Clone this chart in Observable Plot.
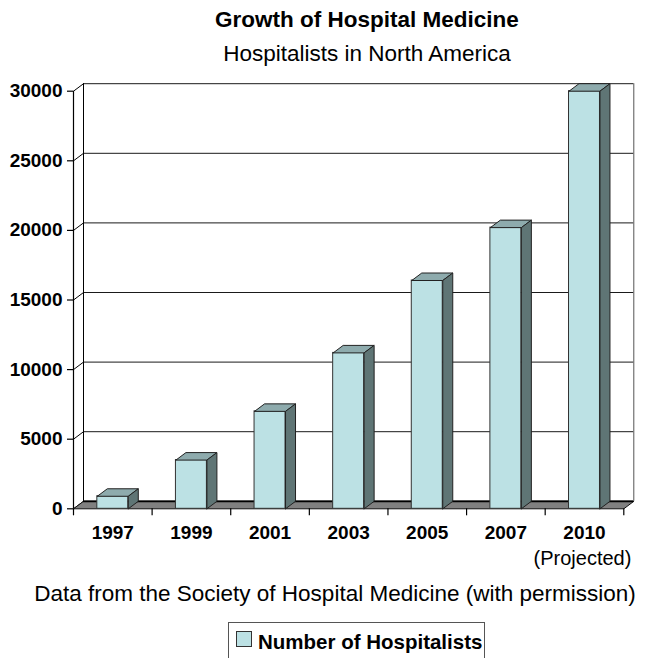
<!DOCTYPE html>
<html>
<head>
<meta charset="utf-8">
<script src="https://cdn.jsdelivr.net/npm/d3@7"></script>
<script src="https://cdn.jsdelivr.net/npm/@observablehq/plot@0.6"></script>
<style>
  html, body { margin: 0; padding: 0; background: white; overflow: hidden; }
  #wrap { position: relative; width: 651px; height: 658px; font-family: "Liberation Sans", Arial, sans-serif; color: #000; }
  .t { position: absolute; white-space: nowrap; line-height: 1; text-align: center; }
  #title { top: 9px; left: 83px; width: 568px; font-size: 22.5px; font-weight: bold; }
  #subtitle { top: 43px; left: 83px; width: 568px; font-size: 22.5px; }
  #chart { position: absolute; top: 70px; left: 0; }
  #caption { top: 583px; left: 0; width: 670px; font-size: 22.5px; }
  #legend { position: absolute; top: 622px; left: 228px; width: 257px; height: 60px; border: 1.5px solid #555; box-sizing: border-box; }
  #legend .sw { position: absolute; left: 7px; top: 8px; width: 14px; height: 14px; background: #bce1e4; border: 1px solid #333; }
  #legend .lab { position: absolute; left: 29px; top: 9px; font-size: 20.5px; font-weight: bold; line-height: 1; white-space: nowrap; }
</style>
</head>
<body>
<div id="wrap">
  <div id="title" class="t"></div>
  <div id="subtitle" class="t"></div>
  <div id="chart"></div>
  <div id="caption" class="t"></div>
  <div id="legend"><div class="sw"></div><div class="lab"></div></div>
</div>
<script>
// ---- data ----
const years = ["1997", "1999", "2001", "2003", "2005", "2007", "2010"];
const hospitalists = [900, 3500, 7000, 11200, 16400, 20200, 30000];
const yTicks = [0, 5000, 10000, 15000, 20000, 25000, 30000];
const projectedNote = "(Projected)";
const seriesName = "Number of Hospitalists";
const titleText = "Growth of Hospital Medicine";
const subtitleText = "Hospitalists in North America";
const captionText = "Data from the Society of Hospital Medicine (with permission)";

document.getElementById("title").textContent = titleText;
document.getElementById("subtitle").textContent = subtitleText;
document.getElementById("caption").textContent = captionText;
document.querySelector("#legend .lab").textContent = seriesName;

// ---- geometry (3-D depth expressed in scale units) ----
const W = 651, H = 500;
const mL = 73, mR = 27.7, mT = 20.7, mB = 61.7;
const n = years.length;
const yMax = 30000;
const bandPx = (W - mL - mR) / n;
const pxPerUnit = (H - mT - mB) / yMax;
const DX = 10 / bandPx;          // depth along x
const DY = 7.5 / pxPerUnit;      // depth along y
const HW = 0.197;                // half bar width (band units)

const bars = years.map((yr, i) => ({yr, v: hospitalists[i], x1: i + 0.5 - HW, x2: i + 0.5 + HW}));

const topPts = bars.flatMap((b, i) => [
  {id: i, x: b.x1, y: b.v}, {id: i, x: b.x2, y: b.v},
  {id: i, x: b.x2 + DX, y: b.v + DY}, {id: i, x: b.x1 + DX, y: b.v + DY}, {id: i, x: b.x1, y: b.v}
]);
const sidePts = bars.flatMap((b, i) => [
  {id: i, x: b.x2, y: 0}, {id: i, x: b.x2 + DX, y: DY},
  {id: i, x: b.x2 + DX, y: b.v + DY}, {id: i, x: b.x2, y: b.v}, {id: i, x: b.x2, y: 0}
]);
const wallPts = [
  {x: DX, y: DY}, {x: n + DX, y: DY}, {x: n + DX, y: yMax + DY}, {x: DX, y: yMax + DY}, {x: DX, y: DY}
];
const floorPts = [
  {x: 0, y: 0}, {x: n, y: 0}, {x: n + DX, y: DY}, {x: DX, y: DY}, {x: 0, y: 0}
];

const chart = Plot.plot({
  width: W, height: H,
  marginLeft: mL, marginRight: mR, marginTop: mT, marginBottom: mB,
  x: {type: "linear", domain: [0, n], axis: null},
  y: {type: "linear", domain: [0, yMax], axis: null},
  style: {fontFamily: "'Liberation Sans', Arial, sans-serif", background: "white", overflow: "visible", color: "black"},
  marks: [
    // back wall
    Plot.line(wallPts, {x: "x", y: "y", fill: "white", stroke: "none"}),
    Plot.ruleY(yTicks, {y: d => d + DY, x1: DX, x2: n + DX, stroke: "#1a1a1a", strokeWidth: 1}),
    Plot.ruleX([n + DX], {y1: DY, y2: yMax + DY, stroke: "#555", strokeWidth: 1}),
    Plot.ruleX([DX], {y1: DY, y2: yMax + DY, stroke: "black", strokeWidth: 1}),
    // left side wall
    Plot.link(yTicks, {x1: 0, y1: d => d, x2: DX, y2: d => d + DY, stroke: "black", strokeWidth: 1}),
    Plot.ruleX([0], {y1: 0, y2: yMax, stroke: "black", strokeWidth: 1.2}),
    // floor
    Plot.line(floorPts, {x: "x", y: "y", fill: "#808080", stroke: "#111", strokeWidth: 1}),
    Plot.ruleY([DY], {x1: DX, x2: n + DX, stroke: "black", strokeWidth: 1.8}),
    // axes
    Plot.axisY({ticks: yTicks, tickSize: 6, tickPadding: 5, tickFormat: d3.format("d"), fontSize: 19, fontWeight: "bold", strokeWidth: 1.2}),
    Plot.axisX({ticks: d3.range(n + 1), tickSize: 7, tickFormat: () => "", strokeWidth: 1.2}),
    Plot.axisX({ticks: d3.range(n).map(i => i + 0.5), tickSize: 0, tickPadding: 16.5, tickFormat: d => years[Math.floor(d)], fontSize: 19, fontWeight: "bold"}),
    Plot.text([projectedNote], {x: n - 0.5, y: 0, dx: -2, text: d => d, dy: 42, lineAnchor: "top", fontSize: 20}),
    // bars
    Plot.rect(bars, {x1: "x1", x2: "x2", y1: 0, y2: "v", fill: "#bce1e4", stroke: "#333", strokeWidth: 1}),
    Plot.line(topPts, {x: "x", y: "y", z: "id", fill: "#8eabad", stroke: "#222", strokeWidth: 1}),
    Plot.line(sidePts, {x: "x", y: "y", z: "id", fill: "#5f7575", stroke: "#222", strokeWidth: 1})
  ]
});
document.getElementById("chart").appendChild(chart);
</script>
</body>
</html>
